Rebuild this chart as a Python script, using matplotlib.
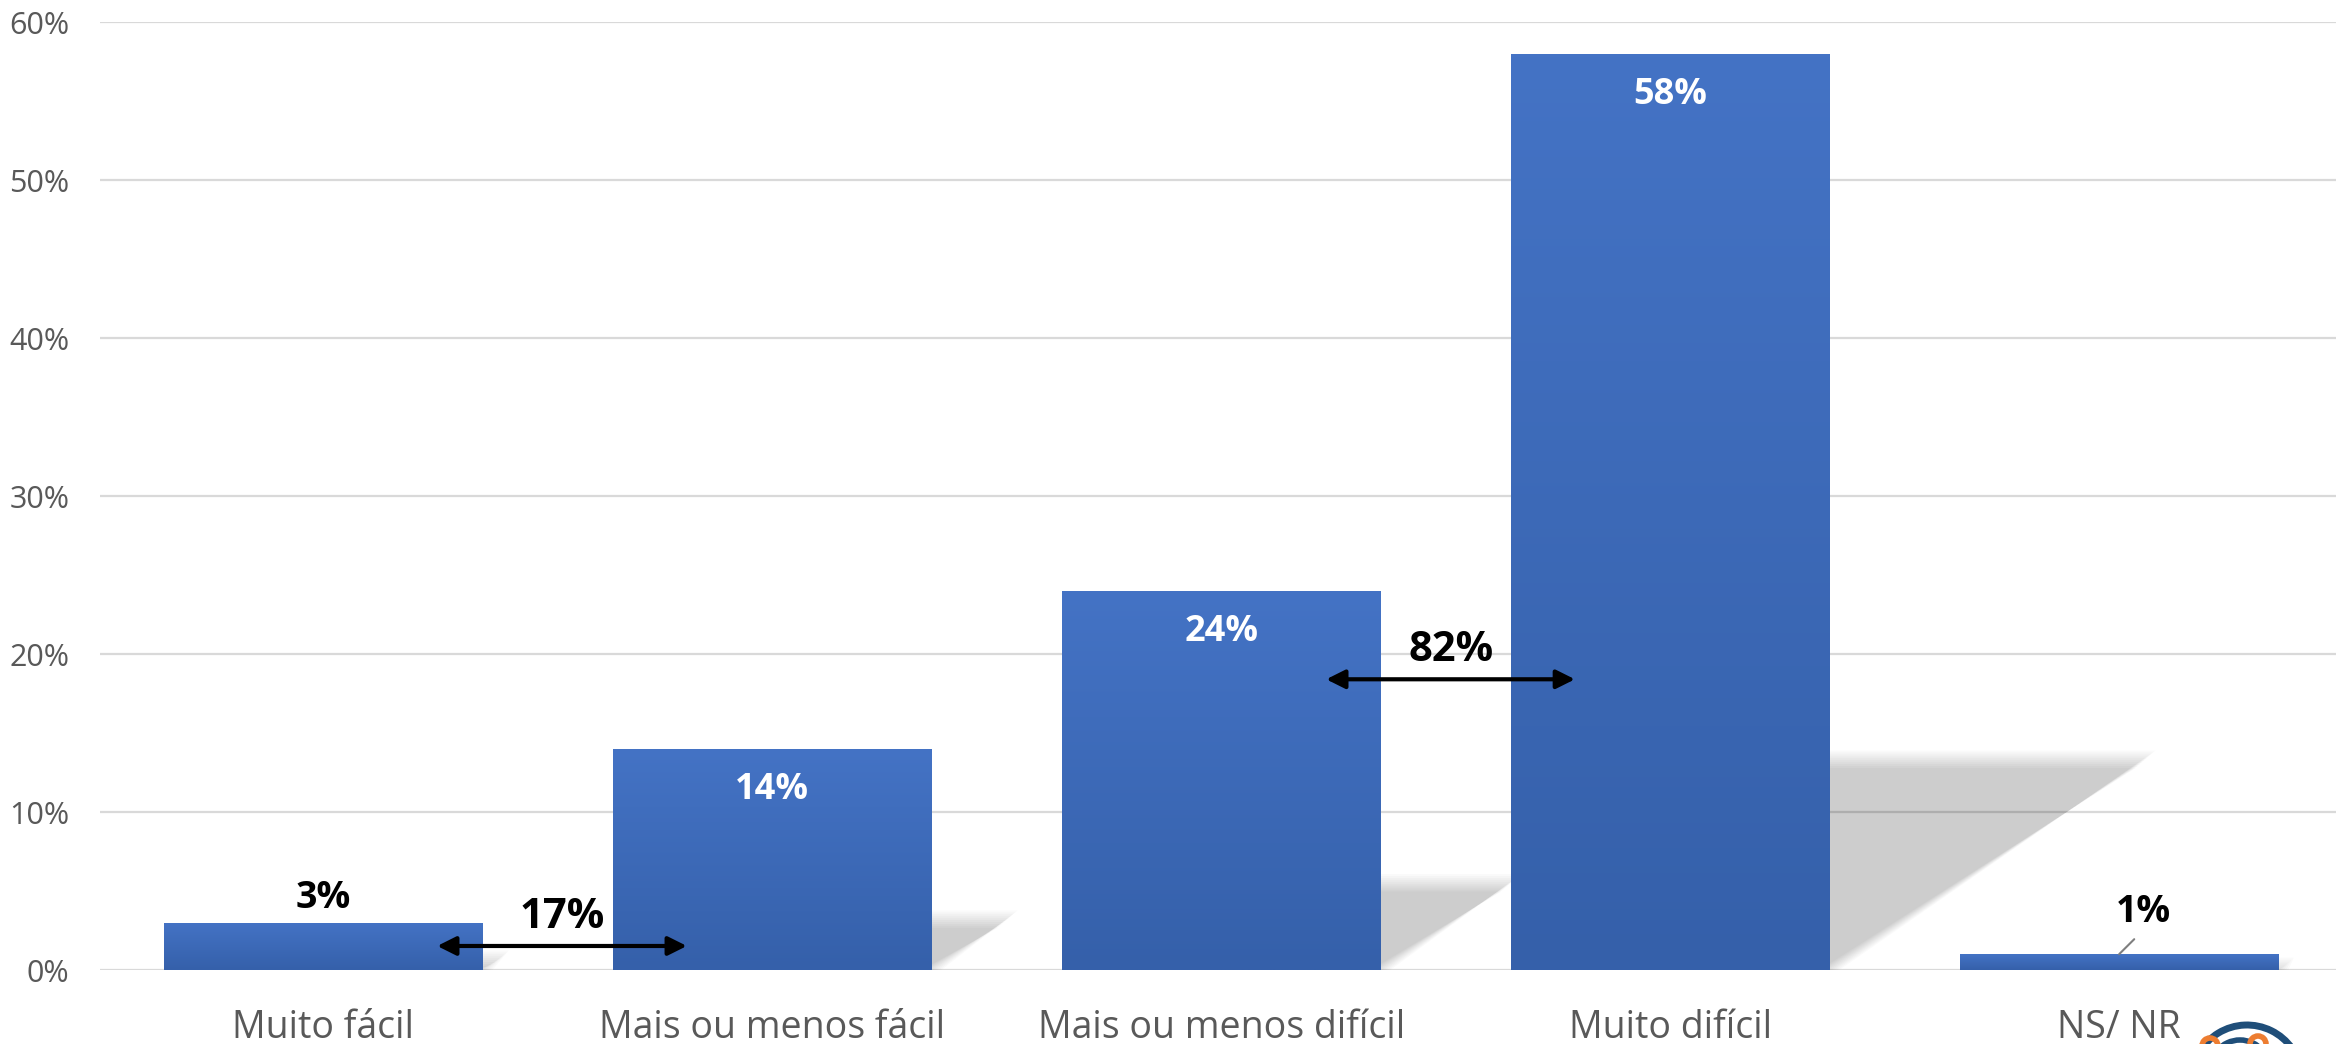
import numpy as np
import matplotlib
matplotlib.use("Agg")
import matplotlib.pyplot as plt
from matplotlib.colors import LinearSegmentedColormap
from matplotlib.patches import Polygon, Arc, Circle

# datos
categorias = ["Muito fácil", "Mais ou menos fácil", "Mais ou menos difícil", "Muito difícil", "NS/ NR"]
valores = [0.03, 0.14, 0.24, 0.58, 0.01]
etiquetas = ["3%", "14%", "24%", "58%", "1%"]
grupos = ["17%", "82%"]
yticks = [0, 0.1, 0.2, 0.3, 0.4, 0.5, 0.6]

plt.rcParams['font.family'] = ['Liberation Sans Narrow', 'Open Sans', 'DejaVu Sans']

fig = plt.figure(figsize=(23.36, 10.44), dpi=100)
ax = fig.add_axes([100 / 2336, 74 / 1044, 2236 / 2336, 948 / 1044])

x = np.arange(len(categorias))
ancho = 0.71

# rejilla
for t in yticks:
    ax.axhline(t, color="#D9D9D9", lw=1.6, zorder=0)

# sombras en perspectiva (difuminadas con varias capas)
k = 0.0528
capas = 10
for xi, v in zip(x, valores):
    sh = 0.23 * v
    dx = sh * 100 * k
    for e in np.linspace(-0.022, 0.022, capas):
        ey = e * 0.25
        pts = [(xi - ancho / 2, 0), (xi + ancho / 2 + e, 0),
               (xi + ancho / 2 + dx + e, sh + ey),
               (xi - ancho / 2 + dx, sh + ey)]
        ax.add_patch(Polygon(pts, closed=True, facecolor="black", edgecolor="none",
                             alpha=0.2 / capas, zorder=1))

# barras con degradado
cmap = LinearSegmentedColormap.from_list("azul", ["#3560AA", "#4473C5"])
grad = np.linspace(0, 1, 256).reshape(-1, 1)
barras = ax.bar(x, valores, width=ancho, color="none", zorder=2)
for b in barras:
    x0, w, h = b.get_x(), b.get_width(), b.get_height()
    im = ax.imshow(grad, extent=(x0, x0 + w, 0, h), origin="lower", cmap=cmap,
                   aspect="auto", zorder=2)
    im.set_clip_path(b)

# etiquetas de datos
for xi, v, lab in zip(x, valores, etiquetas):
    if v >= 0.1:
        ax.text(xi, v - 0.026, lab, ha="center", va="center", color="white",
                fontsize=26, fontweight="bold", zorder=4)
ax.text(x[0], valores[0] + 0.0155, etiquetas[0], ha="center", va="center",
        color="black", fontsize=27, fontweight="bold", zorder=4)
ax.annotate(etiquetas[4], xy=(x[4], valores[4]), xytext=(x[4] + 0.053, 0.037),
            ha="center", va="center", fontsize=27, fontweight="bold", color="black",
            arrowprops=dict(arrowstyle="-", color="#7F7F7F", lw=1.5,
                            shrinkA=6, shrinkB=0, relpos=(0.5, 0)), zorder=4)

# flechas de agrupación
for (xa, xb, ya), lab in zip([(0.254, 0.81, 0.0152), (2.234, 2.788, 0.184)], grupos):
    ax.annotate("", xy=(xa, ya), xytext=(xb, ya),
                arrowprops=dict(arrowstyle="<|-|>", color="black", lw=3,
                                mutation_scale=28, shrinkA=0, shrinkB=0), zorder=5)
    ax.text((xa + xb) / 2, ya + 0.018, lab, ha="center", va="center",
            fontsize=30, fontweight="bold", color="black", zorder=5)

ax.set_xlim(-0.497, 4.483)
ax.set_ylim(0, 0.6)
ax.set_xticks(x)
ax.set_xticklabels(categorias, fontsize=27, color="#595959")
ax.set_yticks(yticks)
ax.set_yticklabels([f"{int(t * 100)}%" for t in yticks], fontsize=22, color="#595959")
ax.tick_params(axis="both", length=0)
ax.tick_params(axis="x", pad=28)
ax.tick_params(axis="y", pad=22)
for s in ax.spines.values():
    s.set_visible(False)

# logotipo parcial en la esquina
fig.add_artist(Arc((2247, 1044 - 1080), 110, 110, theta1=35, theta2=150,
                   transform=None, color="#1F4E79", lw=5))
fig.add_artist(Arc((2240, 1044 - 1070), 60, 60, theta1=40, theta2=140,
                   transform=None, color="#1F4E79", lw=4))
for cx, cy in [(2210, 1046), (2258, 1044)]:
    fig.add_artist(Circle((cx, 1044 - cy), 8, transform=None, fill=False,
                          edgecolor="#ED7D31", lw=4))

fig.savefig("out.png", dpi=100, facecolor="white")
